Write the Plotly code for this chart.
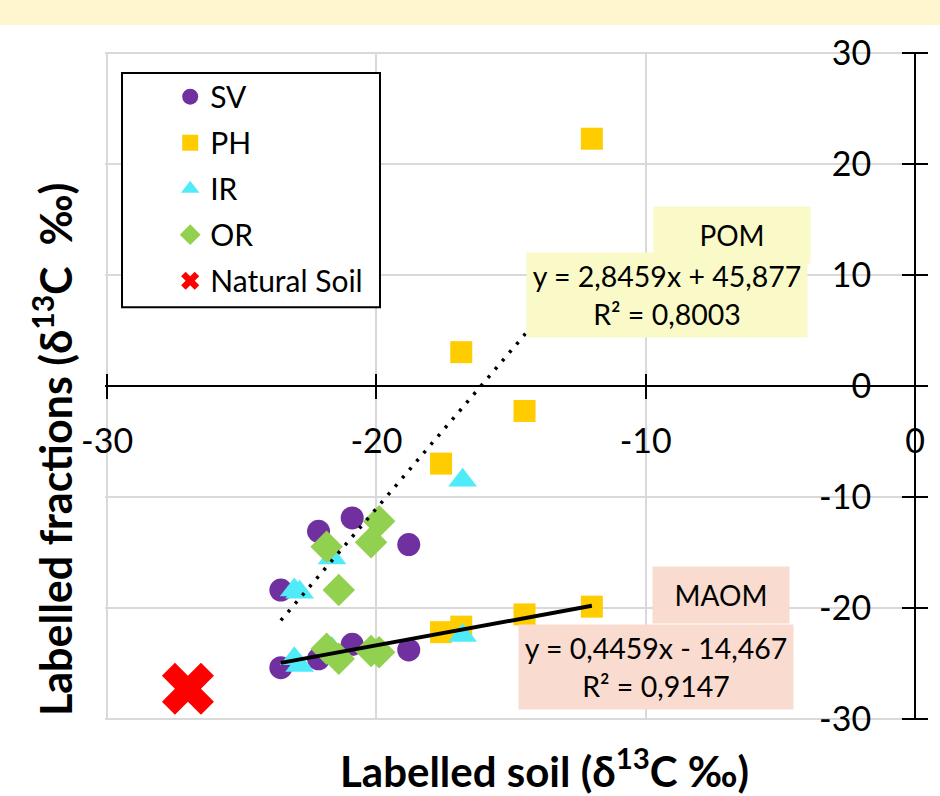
import plotly.graph_objects as go

# ---------------- data ----------------
sv_soil = [-23.55, -22.15, -20.9, -18.8]
sv_pom = [-18.4, -13.1, -11.9, -14.3]
sv_maom = [-25.4, -24.6, -23.3, -23.8]

ph_soil = [-17.6, -16.85, -14.5, -12.0]
ph_pom = [-7.0, 3.05, -2.25, 22.3]
ph_maom = [-22.2, -21.7, -20.6, -19.9]

ir_soil = [-23.05, -22.85, -21.65, -16.8]
ir_pom = [-18.4, -18.6, -15.5, -8.5]
ir_maom = [-24.6, -25.2, -23.7, -22.5]

or_soil = [-21.85, -21.4, -20.2, -19.9]
or_pom = [-14.5, -18.4, -14.1, -12.2]
or_maom = [-23.7, -24.6, -23.9, -24.0]

nat_soil = [-27.0]
nat_frac = [-27.3]

# trendline coefficients printed on the chart: slope, intercept, R2
pom_fit = [2.8459, 45.877, 0.8003]
maom_fit = [0.4459, -14.467, 0.9147]

x_ticks = [-30, -20, -10, 0]
y_ticks = [-30, -20, -10, 0, 10, 20, 30]

FONT = "Lato, 'Open Sans', sans-serif"


def fmt(v, nd):
    return f"{v:.{nd}f}".replace(".", ",")


def eq_text(fit):
    a, b, r2 = fit
    sign = "+" if b >= 0 else "-"
    return f"y = {fmt(a, 4)}x {sign} {fmt(abs(b), 3)}<br>R² = {fmt(r2, 4)}"


series = [
    ("SV", sv_soil, sv_pom, sv_maom, "circle", "#7030A0", 23),
    ("PH", ph_soil, ph_pom, ph_maom, "square", "#FFCC00", 22),
    ("IR", ir_soil, ir_pom, ir_maom, "triangle-up", "#4FEBF9", 25),
    ("OR", or_soil, or_pom, or_maom, "diamond", "#92D050", 25),
]

fig = go.Figure()
for name, sx, py, my, sym, col, sz in series:
    fig.add_trace(go.Scatter(
        x=sx + sx, y=py + my, mode="markers", name=name, legendgroup=name,
        marker=dict(symbol=sym, color=col, size=sz, line=dict(width=0)),
    ))
fig.add_trace(go.Scatter(
    x=nat_soil, y=nat_frac, mode="markers", name="Natural Soil", legendgroup="nat",
    marker=dict(symbol="x", color="#FF0000", size=46, line=dict(width=0)),
))

all_soil = sv_soil + ph_soil + ir_soil + or_soil
xmin, xmax = min(all_soil), max(all_soil)
fig.add_trace(go.Scatter(
    x=[xmin, xmax], y=[pom_fit[0] * xmin + pom_fit[1], pom_fit[0] * xmax + pom_fit[1]],
    mode="lines", line=dict(color="black", width=3.5, dash="3px,8px"), showlegend=False,
))
fig.add_trace(go.Scatter(
    x=[xmin, xmax], y=[maom_fit[0] * xmin + maom_fit[1], maom_fit[0] * xmax + maom_fit[1]],
    mode="lines", line=dict(color="black", width=4), showlegend=False,
))
# dummy trace for the overlay axes carrying the other half of the cross ticks
fig.add_trace(go.Scatter(x=[None], y=[None], xaxis="x2", yaxis="y2", showlegend=False))

tickfont = dict(family=FONT, size=34, color="black")
XR = [-30.08, 0]
YR = [-30.12, 30.12]

fig.update_layout(
    width=940, height=796,
    margin=dict(l=105, r=25, t=52, b=76),
    paper_bgcolor="white", plot_bgcolor="white",
    showlegend=True, hovermode=False,
    xaxis=dict(
        range=XR, tickvals=x_ticks, ticktext=[str(v) for v in x_ticks],
        showgrid=True, gridcolor="#D9D9D9", gridwidth=2, zeroline=False,
        showline=True, linecolor="black", linewidth=2,
        side="bottom", anchor="free", position=0.5,
        ticks="outside", ticklen=12, tickwidth=2, tickcolor="black",
        tickfont=tickfont, ticklabelstandoff=13,
    ),
    yaxis=dict(
        range=YR, tickvals=y_ticks, ticktext=[str(v) for v in y_ticks],
        showgrid=True, gridcolor="#D9D9D9", gridwidth=2, zeroline=False,
        showline=True, linecolor="black", linewidth=2,
        side="left", anchor="free", position=1,
        ticks="outside", ticklen=12, tickwidth=2, tickcolor="black",
        tickfont=tickfont, ticklabelstandoff=24,
    ),
    xaxis2=dict(
        range=XR, tickvals=x_ticks, overlaying="x", side="top",
        anchor="free", position=0.5,
        showgrid=False, zeroline=False, showticklabels=False, showline=False,
        ticks="outside", ticklen=12, tickwidth=2, tickcolor="black",
    ),
    yaxis2=dict(
        range=YR, tickvals=y_ticks, overlaying="y", side="right",
        anchor="free", position=1,
        showgrid=False, zeroline=False, showticklabels=False, showline=False,
        ticks="outside", ticklen=12, tickwidth=2, tickcolor="black",
    ),
    legend=dict(
        x=0.0805, y=0.972, xanchor="left", yanchor="top",
        bgcolor="rgba(0,0,0,0)", borderwidth=0,
        font=dict(family=FONT, size=30, color="black"),
        tracegroupgap=4, itemsizing="trace",
    ),
    shapes=[
        dict(type="rect", xref="paper", yref="paper",
             x0=-105 / 810, x1=1 + 25 / 810, y0=1 + 27 / 668, y1=1 + 52 / 668,
             fillcolor="#FFF5CE", line=dict(width=0), layer="above"),
        dict(type="rect", xref="paper", yref="paper",
             x0=0.021, x1=0.3395, y0=0.618, y1=0.9686,
             fillcolor="white", line=dict(color="black", width=2), layer="above"),
    ],
    annotations=[
        dict(text="POM", x=-6.81, y=13.66, xref="x", yref="y", showarrow=False,
             bgcolor="#FAFAC8", width=156, height=56, borderpad=0,
             font=dict(family=FONT, size=28, color="black")),
        dict(text=eq_text(pom_fit), x=-9.22, y=8.18, xref="x", yref="y", showarrow=False,
             bgcolor="#FAFAC8", width=280, height=84, borderpad=0,
             font=dict(family=FONT, size=28.5, color="black")),
        dict(text="MAOM", x=-7.22, y=-18.87, xref="x", yref="y", showarrow=False,
             bgcolor="#FADBCF", width=136, height=56, borderpad=0,
             font=dict(family=FONT, size=28, color="black")),
        dict(text=eq_text(maom_fit), x=-9.63, y=-25.3, xref="x", yref="y", showarrow=False,
             bgcolor="#FADBCF", width=274, height=84, borderpad=0,
             font=dict(family=FONT, size=28.5, color="black")),
        dict(text="Labelled soil (δ<sup>13</sup>C ‰)", xref="paper", yref="paper",
             x=0.543, y=-0.0725, xanchor="center", yanchor="middle", showarrow=False,
             font=dict(family=FONT, size=42, color="black", weight="bold")),
        dict(text="Labelled fractions (δ<sup>13</sup>C  ‰)", xref="paper", yref="paper",
             x=-0.0655, y=0.4055, xanchor="center", yanchor="middle", showarrow=False,
             textangle=-90,
             font=dict(family=FONT, size=43, color="black", weight="bold")),
    ],
)

fig.write_html("out.html", config={"displayModeBar": False},
               post_script="document.body.style.margin='0';")
